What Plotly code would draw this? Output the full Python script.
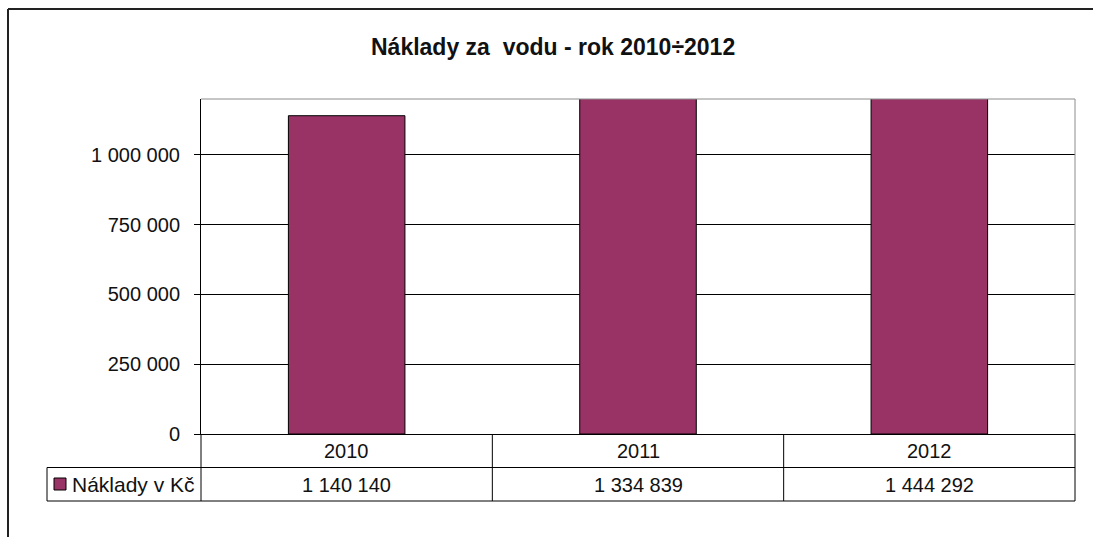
import plotly.graph_objects as go

# Annual water costs (CZK)
years = ["2010", "2011", "2012"]
costs = [1140140, 1334839, 1444292]
series_name = "Náklady v Kč"
title_text = "Náklady za  vodu - rok 2010÷2012"
y_ticks = [0, 250000, 500000, 750000, 1000000]

BAR_COLOR = "#993366"
W, H = 1093, 537
L, R, T, B = 201, 1075, 99, 434  # plot area in pixels
FONT_FAMILY = "Liberation Sans, Arial"
NUM_FONT = dict(family=FONT_FAMILY, size=20, color="#111111")


def fmt(v):
    return f"{v:,}".replace(",", " ")


def px_x(p):
    return (p - L) / (R - L)


def px_y(p):
    return (B - p) / (B - T)


fig = go.Figure(
    go.Bar(
        x=years,
        y=costs,
        width=0.4,
        marker=dict(color=BAR_COLOR, line=dict(color="#000000", width=1)),
        hoverinfo="skip",
    )
)

shapes = []


def line(x0, y0, x1, y1, xref="paper", color="#000000", width=1):
    shapes.append(dict(type="line", xref=xref, yref="paper", x0=x0, y0=y0, x1=x1, y1=y1,
                       line=dict(color=color, width=width), layer="above"))


# plot area border: grey top and right
line(0, 1, 1, 1, color="#8c8c8c")
line(1, 0, 1, 1, color="#8c8c8c")

# data table grid
row1 = px_y(467.5)
row2 = px_y(501)
line(px_x(47), row1, 1, row1)
line(px_x(47), row2, 1, row2)
line(px_x(47), row1, px_x(47), row2)
line(0, 0, 0, row2)
line(1, 0, 1, row2)
for b in [0.5, 1.5]:
    line(b, 0, b, row2, xref="x")

# legend key in the table
shapes.append(dict(type="rect", xref="paper", yref="paper",
                   x0=px_x(54), x1=px_x(66), y0=px_y(490), y1=px_y(478),
                   fillcolor=BAR_COLOR, line=dict(color="#000000", width=1), layer="above"))

# outer chart frame
shapes.append(dict(type="line", xref="paper", yref="paper", x0=px_x(8), x1=px_x(1100),
                   y0=px_y(9), y1=px_y(9), line=dict(color="#222222", width=2)))
shapes.append(dict(type="line", xref="paper", yref="paper", x0=px_x(8), x1=px_x(8),
                   y0=px_y(9), y1=px_y(545), line=dict(color="#222222", width=2)))

annotations = []
for i, (yr, v) in enumerate(zip(years, costs)):
    annotations.append(dict(x=i, y=px_y(451), xref="x", yref="paper", text=yr,
                            showarrow=False, font=NUM_FONT, xanchor="center", yanchor="middle"))
    annotations.append(dict(x=i, y=px_y(485), xref="x", yref="paper", text=fmt(v),
                            showarrow=False, font=NUM_FONT, xanchor="center", yanchor="middle"))
annotations.append(dict(x=px_x(70), y=px_y(485), xref="paper", yref="paper", text=series_name,
                        showarrow=False, font=dict(family=FONT_FAMILY, size=21, color="#111111"),
                        xanchor="left", yanchor="middle"))
annotations.append(dict(x=px_x(553), y=px_y(47), xref="paper", yref="paper", text=f"<b>{title_text}</b>",
                        showarrow=False, xanchor="center", yanchor="middle",
                        font=dict(family=FONT_FAMILY, size=23, color="#111111")))

fig.update_layout(
    width=W, height=H,
    margin=dict(l=L, r=W - R, t=T, b=H - B, pad=0),
    paper_bgcolor="#ffffff", plot_bgcolor="#ffffff",
    showlegend=False,
    shapes=shapes,
    annotations=annotations,
    xaxis=dict(type="category", range=[-0.5, 2.5], showticklabels=False, showgrid=False,
               zeroline=False, showline=True, linecolor="#000000", linewidth=1, ticks=""),
    yaxis=dict(range=[0, 1200000], tickvals=y_ticks, ticktext=[fmt(v) for v in y_ticks],
               showgrid=True, gridcolor="#000000", gridwidth=1, zeroline=False,
               showline=True, linecolor="#000000", linewidth=1,
               ticks="outside", ticklen=6, tickcolor="#000000", tickfont=NUM_FONT,
               ticklabelstandoff=10),
)

fig.write_html("out.html")
